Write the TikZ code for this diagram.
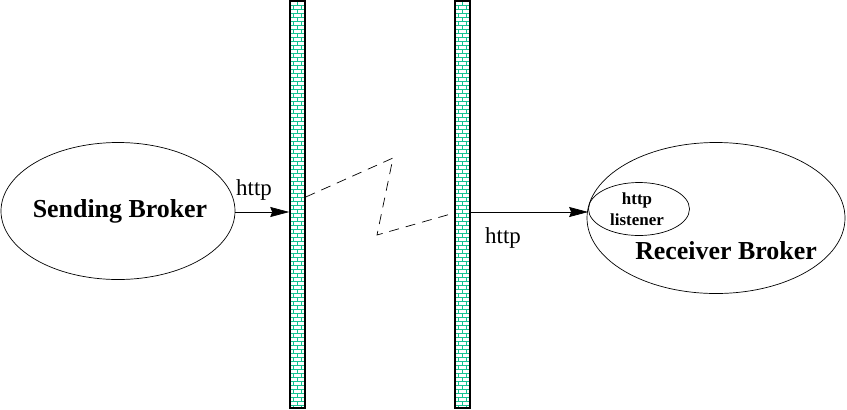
\documentclass[tikz,border=0pt]{standalone}
\usepackage{fontspec}
\setmainfont{Liberation Serif}
\usetikzlibrary{arrows.meta,shapes.geometric}
\definecolor{brickgreen}{RGB}{20,195,145}

\begin{document}
\begin{tikzpicture}[x=1bp,y=-1bp,->,>={Stealth[length=19bp,width=10bp,inset=2bp]},
		line width=0.7bp,
		broker/.style={ellipse,draw,inner sep=0pt},
		title/.style={font=\fontsize{26}{28}\selectfont\bfseries},
		brickline/.style={-,draw=brickgreen,line width=1.1bp},
		wall/.style={draw,-,line width=1.5bp,minimum width=15bp,minimum height=407bp,inner sep=0pt,
			path picture={
				\foreach \r in {0,2,...,100}{
					\draw[brickline] ([yshift=-\r*4bp-0.5bp]path picture bounding box.north west)
					++(0,4) -- ++(15,0) ++(-15,4) -- ++(15,0)
					([yshift=-\r*4bp-0.5bp]path picture bounding box.north west) ++(7.5,0) -- ++(0,4)
					++(-3.75,0) -- ++(0,4) ++(7.5,-4) -- ++(0,4);
				}}},
		label/.style={font=\fontsize{23}{25}\selectfont}]
		
		\useasboundingbox (0,0) rectangle (847,409);
		
		\node[broker,minimum width=234bp,minimum height=137bp] (Sender) at (118,211) {};
		\node[title] (SendText) at (120,211) {Sending Broker};
		\node[wall] (Wall1) at (297.5,204.5) {};
		\node[wall] (Wall2) at (462.5,204.5) {};
		\node[broker,minimum width=258bp,minimum height=151bp] (Receiver) at (716,218) {};
		\node[title] (RecvText) at (726,251) {Receiver Broker};
		\node[broker,minimum width=101bp,minimum height=53bp] (Listener) at (639,209) {};
		\node[align=center,font=\fontsize{17}{21}\selectfont\bfseries] (ListenText) at (637,209) {http\\listener};
		
		% wire across the gap
		\coordinate (Bend1) at (393,158);
		\coordinate (Bend2) at (377,235);
		\draw[-,dash pattern=on 10bp off 7bp] (Wall1.east |- 0,197) -- (Bend1) -- (Bend2) -- (Wall2.west |- 0,213);
		
		\draw (Sender.east |- 0,212) -- (Wall1.west |- 0,212);
		\node[label] (Http1) at (254,190) {http};
		\draw (Wall2.east |- 0,212) -- (Listener.west |- 0,212);
		\node[label] (Http2) at (503,238) {http};
	\end{tikzpicture}
\end{document}
